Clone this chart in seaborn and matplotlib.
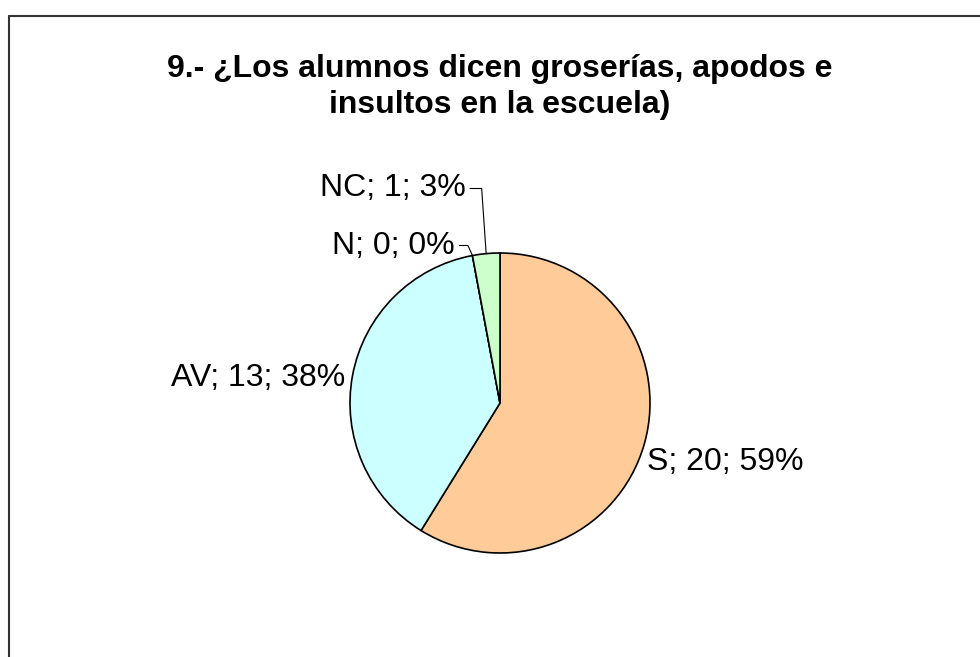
import numpy as np
import matplotlib.pyplot as plt
import seaborn as sns
from matplotlib.lines import Line2D

categories = ["S", "AV", "N", "NC"]
counts = [20, 13, 0, 1]
colors = ["#FFCC99", "#CCFFFF", "#99CCFF", "#CCFFCC"]
title = "9.- ¿Los alumnos dicen groserías, apodos e\ninsultos en la escuela)"

sns.set_theme(style="white")
plt.rcParams['font.family'] = ['Liberation Sans', 'DejaVu Sans']
plt.rcParams['text.color'] = 'black'

W, H = 980, 657
fig = plt.figure(figsize=(W / 100, H / 100), dpi=100)

# pie centred at (500, 403) px, radius 150 px
cx, cy, r = 500, 403, 150
ax = fig.add_axes([(cx - r) / W, (H - cy - r) / H, 2 * r / W, 2 * r / H])
wedges, _ = ax.pie(counts, colors=colors, startangle=90, counterclock=False,
                   radius=1, wedgeprops=dict(edgecolor="black", linewidth=1.2))
ax.set_xlim(-1, 1)
ax.set_ylim(-1, 1)
ax.set_aspect("equal")
ax.axis("off")

total = sum(counts)
# label anchor (data units of the pie axes) and alignment
label_pos = {
    "S": (0.98, -0.39, "left"),
    "AV": (-1.03, 0.17, "right"),
    "N": (-0.30, 1.05, "right"),
    "NC": (-0.23, 1.43, "right"),
}
for w, cat, n in zip(wedges, categories, counts):
    pct = round(100 * n / total)
    tx, ty, ha = label_pos[cat]
    ax.text(tx, ty, f"{cat}; {n}; {pct}%", ha=ha, va="center", fontsize=23,
            color="black", clip_on=False)
    if cat in ("N", "NC"):
        ang = np.deg2rad((w.theta1 + w.theta2) / 2)
        ex, ey = np.cos(ang), np.sin(ang)
        ax.add_line(Line2D([tx + 0.03, ex - 0.03, ex], [ty, ty, ey], color="black",
                           linewidth=0.8, clip_on=False))

fig.text(500 / W, 1 - 87 / H, title, ha="center", va="center", fontsize=23,
         fontweight="bold", linespacing=1.3, color="black")

# chart frame (left and top edges visible)
fig.add_artist(Line2D([8.5 / W, 8.5 / W], [0, 1 - 15.5 / H], color="#333333",
                      linewidth=1.5, transform=fig.transFigure))
fig.add_artist(Line2D([8.5 / W, 1], [1 - 15.5 / H, 1 - 15.5 / H], color="#333333",
                      linewidth=1.5, transform=fig.transFigure))

fig.savefig("out.png", dpi=100, facecolor="white")
